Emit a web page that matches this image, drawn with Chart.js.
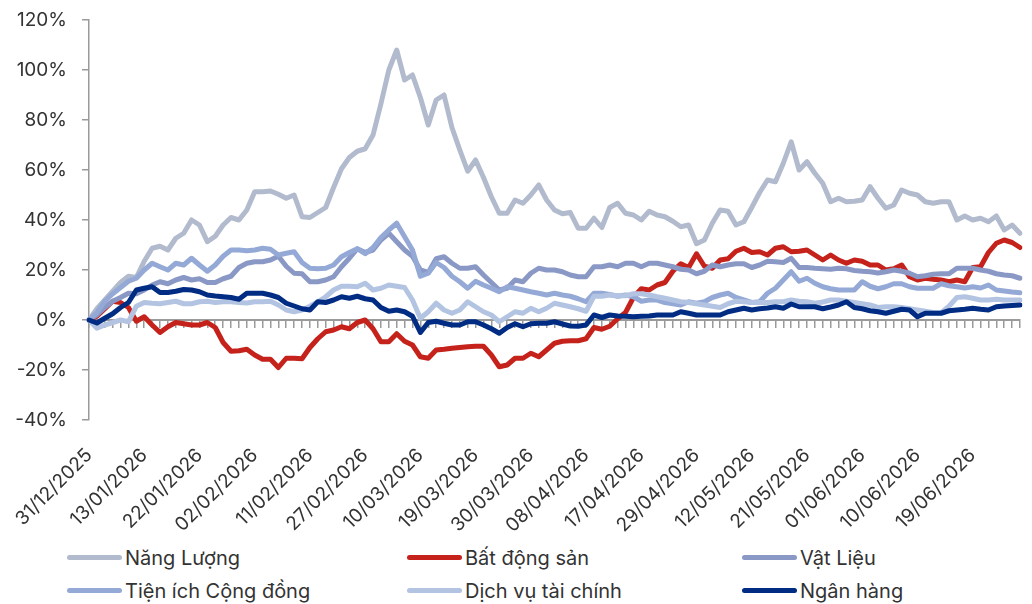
<!DOCTYPE html>
<html>
<head>
<meta charset="utf-8">
<script src="https://cdn.jsdelivr.net/npm/chart.js@4.4.1/dist/chart.umd.min.js"></script>
<style>
  body { margin: 0; background: #fff; font-family: Inter, sans-serif; }
  #wrap { position: relative; width: 1032px; height: 604px; }
  #chartBox { position: absolute; left: 0; top: 0; width: 1032px; height: 535px; }
  #legend { position: absolute; left: 67px; top: 541px; display: grid;
            grid-template-columns: 340px 335px 230px; grid-auto-rows: 33px; }
  .item { display: flex; align-items: center; font-size: 20px; color: #333; white-space: nowrap; }
  .swatch { width: 55px; height: 5px; border-radius: 3px; margin-right: 3px; }
</style>
</head>
<body>
<div id="wrap">
  <div id="chartBox"><canvas id="myChart"></canvas></div>
  <div id="legend"></div>
</div>
<script>
// chart data (cumulative return, %)
const nangLuong = [0, 4.5, 8, 11.5, 15, 17.5, 17, 23.5, 28.7, 29.5,
  28, 32.7, 34.7, 40, 38, 31.3, 33.5, 38, 41, 40,
  44, 51.3, 51.3, 51.6, 50.3, 48.7, 50, 41.3, 41, 43,
  45, 53, 60.5, 65, 67.5, 68.5, 74, 86.5, 100, 108,
  96, 98, 89, 78, 88, 90, 77, 68, 59.5, 64,
  57, 49.3, 42.7, 42.7, 48, 46.7, 50, 54, 48, 44,
  42.5, 43, 36.7, 36.7, 40.7, 37, 45, 46.7, 42.7, 42,
  40, 43.5, 42, 41.3, 39.5, 37.3, 38, 30.5, 32, 38.7,
  44, 43.5, 38, 39.3, 45, 51, 56, 55.3, 62.7, 71.3,
  60, 63.3, 58.7, 54.7, 47.3, 48.7, 47.3, 47.5, 48, 53.3,
  48.7, 44.7, 46, 52, 50.7, 50, 47.3, 46.7, 47.3, 47.3,
  40, 41.6, 40, 40.7, 39.3, 41.6, 36, 38, 34.7];
const batDongSan = [0, 1.5, 4.5, 7.5, 7, 5, -0.5, 1.3, -2, -5,
  -2.7, -1, -1.5, -2, -2, -1, -3, -9, -12.5, -12.3,
  -11.7, -14, -15.7, -15.7, -19, -15.3, -15.3, -15.5, -11, -7.5,
  -4.7, -4, -2.7, -3.5, -1, 0, -3.5, -8.7, -8.7, -5.5,
  -8.5, -10, -14.7, -15.3, -12, -11.7, -11.3, -11, -10.7, -10.5,
  -10.5, -14, -18.7, -18, -15.3, -15.3, -13.3, -14.7, -12, -9.3,
  -8.5, -8.3, -8.3, -7.5, -3, -3.7, -2.5, 0.5, 3, 9,
  12.5, 12, 14, 15, 19.5, 22.5, 21, 26.5, 21.5, 20.7,
  24, 24.5, 27.5, 28.7, 27, 27.3, 26, 28.7, 29.3, 27.3,
  27.5, 28, 26, 24, 26, 24, 22.7, 24, 23.5, 22,
  22, 20, 20.5, 22, 17.3, 16, 16.7, 16.3, 16, 15.3,
  16, 15.3, 21, 21.3, 27, 30.7, 32, 31, 29];
const vatLieu = [0, 2, 5, 7.5, 9, 10.7, 10.5, 12, 14, 15.3,
  14.5, 16, 17, 16, 16.5, 15, 15, 16.5, 17.5, 21,
  22.7, 23.3, 23.3, 24, 25.5, 21.5, 18.7, 18.5, 15.3, 15.3,
  16, 17.3, 21.3, 24.7, 28.5, 27, 28, 32, 34.7, 31.3,
  28, 25.5, 20, 19, 24.5, 25.3, 22.7, 20.7, 20.7, 21.3,
  18, 15, 12, 12.7, 16, 15.3, 18.7, 20.7, 20, 20,
  19.3, 18, 17.3, 17.3, 21.3, 21.3, 22, 21.3, 22.7, 22.7,
  21.3, 22.7, 22.7, 22, 21.3, 20.3, 20, 18.5, 19.5, 22,
  21.3, 22, 22.5, 22.5, 21, 22, 23.5, 23.3, 23, 24.7,
  21, 21, 20.7, 20.5, 20.3, 20.7, 20.5, 19.8, 19.5, 19.3,
  18.8, 19.3, 20, 19.5, 18.7, 17.3, 17.7, 18.3, 18.5, 18.5,
  20.7, 20.7, 20.7, 20, 19.5, 18.5, 18, 17.7, 16.7];
const tienIch = [0, 3, 7.5, 10.5, 13, 15.5, 16.7, 20, 22.7, 21.3,
  20, 22.7, 22, 24.7, 22, 19.5, 22, 25.5, 28, 28,
  27.7, 28, 28.7, 28.3, 26, 26.7, 27.3, 23, 20.7, 20.5,
  20.7, 22, 25.3, 27, 28.5, 26.5, 29, 33, 36, 38.7,
  33.3, 28, 17.5, 18.7, 23, 21, 17.5, 15.3, 12.7, 15.5,
  14, 12.7, 11.3, 13.3, 12.7, 12, 11.3, 10.7, 10, 10.7,
  10, 9.5, 8.5, 7.3, 10.7, 10.7, 10.2, 9.5, 10, 9.3,
  7.5, 8, 8, 7, 6.5, 6, 7.3, 6.7, 7.3, 9,
  10, 10.7, 9, 8, 7, 7.3, 10.7, 12.7, 16, 19.3,
  15.5, 16.7, 14.7, 13.3, 12.5, 12, 12, 12, 15.3, 13.5,
  12.5, 13.3, 14.5, 14.5, 13.3, 12.7, 12.7, 12.7, 14.5, 13.7,
  13.3, 12.8, 13.3, 12.8, 14, 12, 11.6, 11.2, 10.9];
const dichVu = [0, -3.3, -2, -1, 0, -0.7, 5.5, 7, 6.7, 6.5,
  7, 7.5, 6.5, 6.5, 7.3, 7.5, 7, 7.3, 7.3, 7,
  6.8, 7.3, 7.3, 7.5, 6, 4, 3.3, 4, 5.5, 7.3,
  9.3, 12, 13.5, 13.5, 13.3, 14.7, 12, 12.7, 14, 13.5,
  13, 8, 0.7, 3.3, 6.7, 4, 2.7, 4, 7.3, 5.3,
  3.3, 2, -0.7, 1.3, 3.3, 2.7, 4.7, 3.3, 4.7, 6.7,
  6, 5.3, 4.5, 3.5, 9.5, 9.5, 10, 9.7, 9.7, 10.5,
  10.5, 10, 9.3, 8.7, 8, 7.3, 7, 6.5, 6, 5.5,
  5, 6.5, 7.5, 7.3, 7, 7, 7, 7.3, 7.3, 8,
  7.5, 7.3, 6.7, 7.2, 8, 8, 7.5, 7, 6.5, 6,
  5, 5.3, 5.3, 5, 4.5, 4, 3.5, 3, 2.9, 5.5,
  9, 9.3, 8.7, 8, 8, 8.3, 8, 8, 8];
const nganHang = [0, -1.2, 0.7, 2.5, 5, 7, 12, 12.7, 13.3, 11,
  11, 11.5, 12.2, 12, 11.3, 10, 9.6, 9.3, 9, 8.3,
  10.7, 10.7, 10.7, 10, 9, 6.7, 5.6, 4.5, 4, 7.3,
  7, 8, 9.3, 8.7, 9.5, 8.5, 8, 5, 3.5, 4,
  3.3, 1.5, -5, -1, -0.5, -1.3, -2, -2, -0.7, -0.7,
  -2, -3.5, -5.3, -3, -1.5, -2.7, -1.5, -1.3, -1.3, -0.7,
  -1.6, -2.4, -2.5, -2, 2, 1, 2, 1.6, 1.5, 1.3,
  1.5, 1.6, 2, 2, 2, 3.3, 2.7, 2, 2, 2,
  2, 3.3, 4, 4.7, 4, 4.5, 4.8, 5.3, 4.7, 6.4,
  5.3, 5.3, 5.3, 4.5, 5.2, 6, 7.3, 5, 4.5, 3.7,
  3.3, 2.7, 3.5, 4.3, 4, 1.3, 2.7, 2.7, 2.7, 3.7,
  4, 4.3, 4.7, 4.3, 4, 5.3, 5.6, 5.8, 6];

// trading days: 31/12/2025 onwards, skipping weekends and market holidays
const holidays = ["2026-01-01", "2026-01-02", "2026-02-16", "2026-02-17", "2026-02-18",
  "2026-02-19", "2026-02-20", "2026-04-27", "2026-04-30", "2026-05-01"];
const labelEvery = 7;
const yTicks = { min: -40, max: 120, step: 20 };

const categories = ["31/12/2025"];
const day = new Date(Date.UTC(2026, 0, 1));
while (categories.length < nangLuong.length) {
  const iso = day.toISOString().slice(0, 10);
  const wd = day.getUTCDay();
  if (wd !== 0 && wd !== 6 && !holidays.includes(iso)) {
    categories.push(iso.slice(8, 10) + "/" + iso.slice(5, 7) + "/" + iso.slice(0, 4));
  }
  day.setUTCDate(day.getUTCDate() + 1);
}

const series = [
  { name: "Năng Lượng", data: nangLuong, color: "#B1BBCD", order: 5 },
  { name: "Bất động sản", data: batDongSan, color: "#C4221B", order: 4 },
  { name: "Vật Liệu", data: vatLieu, color: "#8A98C6", order: 3 },
  { name: "Tiện ích Cộng đồng", data: tienIch, color: "#94A9D6", order: 2 },
  { name: "Dịch vụ tài chính", data: dichVu, color: "#B3C4E2", order: 1 },
  { name: "Ngân hàng", data: nganHang, color: "#002C83", order: 0 },
];

const axisColor = "#9a9a9a";
const textColor = "#333";
const font = "Inter";

new Chart(document.getElementById("myChart"), {
  type: "line",
  data: {
    labels: categories,
    datasets: series.map((s) => ({
      label: s.name,
      data: s.data,
      borderColor: s.color,
      backgroundColor: s.color,
      borderWidth: 5,
      pointRadius: 0,
      tension: 0,
      borderJoinStyle: "round",
      borderCapStyle: "round",
      order: s.order,
      xAxisID: "x",
    })),
  },
  options: {
    responsive: true,
    maintainAspectRatio: false,
    animation: false,
    layout: { padding: { top: 20, right: 12, left: 0, bottom: 0 } },
    plugins: { legend: { display: false }, tooltip: { enabled: false } },
    scales: {
      y: {
        min: yTicks.min,
        max: yTicks.max,
        afterFit: (s) => { s.width = 89; s.paddingTop = 0; s.paddingBottom = 0; },
        ticks: {
          stepSize: yTicks.step,
          callback: (v) => v + "%",
          color: textColor,
          font: { family: font, size: 19 },
          padding: 15,
        },
        grid: { drawOnChartArea: false, tickLength: 7, color: axisColor, lineWidth: 1.5 },
        border: { color: axisColor, width: 1.5 },
      },
      // axis line with tick marks drawn at 0%
      x: {
        type: "category",
        position: { y: 0 },
        offset: false,
        ticks: { display: false, autoSkip: false },
        grid: { drawOnChartArea: false, tickLength: 7, color: axisColor, lineWidth: 1.5, offset: false },
        border: { color: axisColor, width: 2 },
      },
      // date labels at the bottom
      x2: {
        type: "category",
        position: "bottom",
        offset: false,
        afterFit: (s) => { s.height = 115; s.paddingRight = 0; },
        grid: { display: false },
        border: { display: false },
        ticks: {
          autoSkip: false,
          minRotation: 45,
          maxRotation: 45,
          padding: 16,
          color: textColor,
          font: { family: font, size: 19 },
          callback: function (val, i) {
            return i % labelEvery === 0 ? this.getLabelForValue(val) : "";
          },
        },
      },
    },
  },
});

// legend in three columns like the original
const legend = document.getElementById("legend");
series.forEach((s) => {
  const item = document.createElement("div");
  item.className = "item";
  item.innerHTML = '<span class="swatch" style="background:' + s.color + '"></span>' + s.name;
  legend.appendChild(item);
});
</script>
</body>
</html>
